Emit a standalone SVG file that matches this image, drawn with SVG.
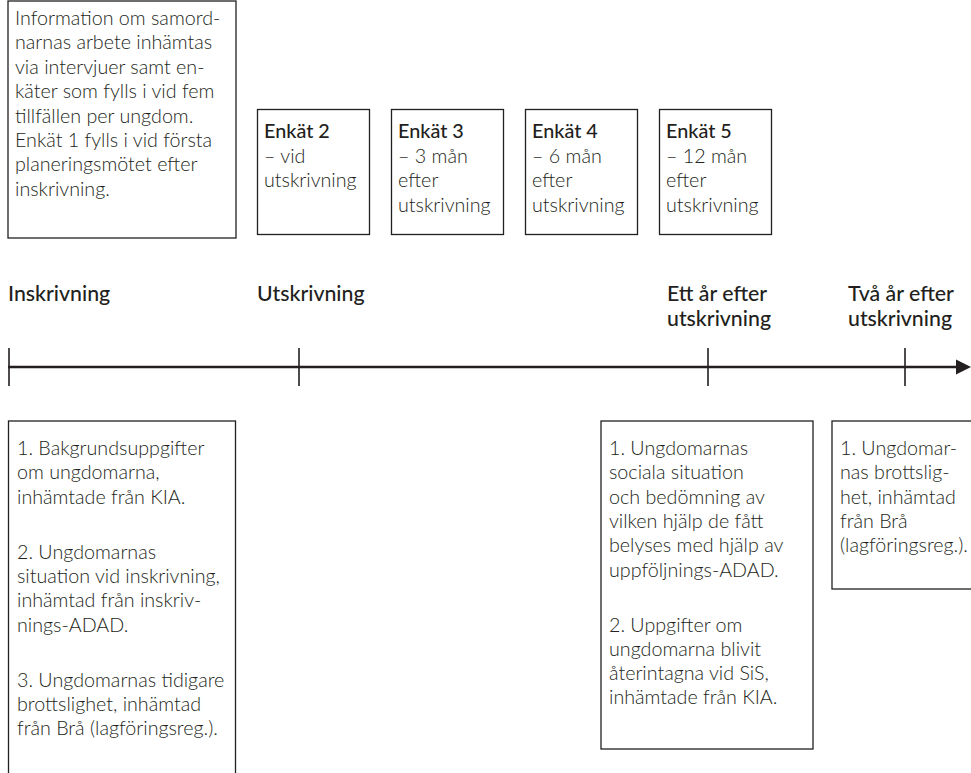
<svg xmlns="http://www.w3.org/2000/svg" width="971" height="773" viewBox="0 0 971 773">
<defs>
<style>
text{font-family:Lato,"Liberation Sans",sans-serif;fill:#231f20}
.b{font-size:19.7px;font-weight:300}
.h{font-size:19.8px;font-weight:500}
.t{font-size:21.3px;font-weight:500}
.box{fill:#fff;stroke:#231f20;stroke-width:1.3}
.tick{stroke:#231f20;stroke-width:1.6}
</style>
</defs>
<rect width="971" height="773" fill="#fff"/>

<g id="info">
<rect class="box" x="8" y="1" width="228" height="237"/>
<text class="b" x="15" y="25">Information om samord-</text>
<text class="b" x="15" y="49.4">narnas arbete inhämtas</text>
<text class="b" x="15" y="73.8">via intervjuer samt en-</text>
<text class="b" x="15" y="98.2">käter som fylls i vid fem</text>
<text class="b" x="15" y="122.6">tillfällen per ungdom.</text>
<text class="b" x="15" y="147">Enkät 1 fylls i vid första</text>
<text class="b" x="15" y="171.4">planeringsmötet efter</text>
<text class="b" x="15" y="195.8">inskrivning.</text>
</g>

<g id="enkat2">
<rect class="box" x="257.5" y="109.5" width="112" height="125"/>
<text class="h" x="264" y="138">Enkät 2</text>
<text class="b" x="264" y="162.5">– vid</text>
<text class="b" x="264" y="187">utskrivning</text>
</g>
<g id="enkat3">
<rect class="box" x="391.5" y="109.5" width="112" height="125"/>
<text class="h" x="398" y="138">Enkät 3</text>
<text class="b" x="398" y="162.5">– 3 mån</text>
<text class="b" x="398" y="187">efter</text>
<text class="b" x="398" y="211.5">utskrivning</text>
</g>
<g id="enkat4">
<rect class="box" x="525.5" y="109.5" width="112" height="125"/>
<text class="h" x="532" y="138">Enkät 4</text>
<text class="b" x="532" y="162.5">– 6 mån</text>
<text class="b" x="532" y="187">efter</text>
<text class="b" x="532" y="211.5">utskrivning</text>
</g>
<g id="enkat5">
<rect class="box" x="659.5" y="109.5" width="112" height="125"/>
<text class="h" x="666" y="138">Enkät 5</text>
<text class="b" x="666" y="162.5">– 12 mån</text>
<text class="b" x="666" y="187">efter</text>
<text class="b" x="666" y="211.5">utskrivning</text>
</g>

<g id="lbl-inskrivning"><text class="t" x="8" y="301">Inskrivning</text></g>
<g id="lbl-utskrivning"><text class="t" x="257" y="301">Utskrivning</text></g>
<g id="lbl-ettar"><text class="t" x="667" y="301">Ett år efter</text><text class="t" x="667" y="326">utskrivning</text></g>
<g id="lbl-tvaar"><text class="t" x="848" y="301">Två år efter</text><text class="t" x="848" y="326">utskrivning</text></g>

<g id="connectors">
<line x1="8" y1="367" x2="958" y2="367" stroke="#231f20" stroke-width="2.6"/>
<path d="M971,367 L956,359.5 L956,374.5 z" fill="#231f20"/>
<line class="tick" x1="9" y1="348" x2="9" y2="386"/>
<line class="tick" x1="299" y1="348" x2="299" y2="386"/>
<line class="tick" x1="708" y1="348" x2="708" y2="386"/>
<line class="tick" x1="905" y1="348" x2="905" y2="386"/>
</g>

<g id="data-in">
<rect class="box" x="8.5" y="421" width="227" height="380"/>
<text class="b" x="17" y="455">1. Bakgrundsuppgifter</text>
<text class="b" x="17" y="479.3">om ungdomarna,</text>
<text class="b" x="17" y="503.6">inhämtade från KIA.</text>
<text class="b" x="17" y="558.6">2. Ungdomarnas</text>
<text class="b" x="17" y="582.9">situation vid inskrivning,</text>
<text class="b" x="17" y="607.2">inhämtad från inskriv-</text>
<text class="b" x="17" y="631.5">nings-ADAD.</text>
<text class="b" x="17" y="686.5">3. Ungdomarnas tidigare</text>
<text class="b" x="17" y="710.8">brottslighet, inhämtad</text>
<text class="b" x="17" y="735.1">från Brå (lagföringsreg.).</text>
</g>

<g id="data-1ar">
<rect class="box" x="601" y="421" width="212" height="328"/>
<text class="b" x="609" y="455">1. Ungdomarnas</text>
<text class="b" x="609" y="479.3">sociala situation</text>
<text class="b" x="609" y="503.6">och bedömning av</text>
<text class="b" x="609" y="527.9">vilken hjälp de fått</text>
<text class="b" x="609" y="552.2">belyses med hjälp av</text>
<text class="b" x="609" y="576.5">uppföljnings-ADAD.</text>
<text class="b" x="609" y="631.5">2. Uppgifter om</text>
<text class="b" x="609" y="655.8">ungdomarna blivit</text>
<text class="b" x="609" y="680.1">återintagna vid SiS,</text>
<text class="b" x="609" y="704.4">inhämtade från KIA.</text>
</g>

<g id="data-2ar">
<rect class="box" x="832" y="421" width="160" height="168"/>
<text class="b" x="840" y="455">1. Ungdomar-</text>
<text class="b" x="840" y="479.3">nas brottslig-</text>
<text class="b" x="840" y="503.6">het, inhämtad</text>
<text class="b" x="840" y="527.9">från Brå</text>
<text class="b" x="840" y="552.2">(lagföringsreg.).</text>
</g>
</svg>
